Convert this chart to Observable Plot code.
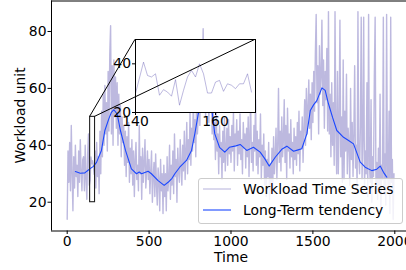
<!DOCTYPE html>
<html><head><meta charset="utf-8">
<script src="https://cdn.jsdelivr.net/npm/d3@7"></script>
<script src="https://cdn.jsdelivr.net/npm/@observablehq/plot@0.6"></script>
<style>
body{margin:0;background:#fff;}
#wrap{position:relative;width:406px;height:270px;overflow:hidden;font-family:"DejaVu Sans",sans-serif;}
#wrap > svg{position:absolute;}
</style></head><body><div id="wrap"></div>
<script>
// ---- data ----
const STEP = 5; // time spacing of the workload samples
const workloadA = [ // t = 0..495
  14,38,27,41,24,47,30,17,36,25,40,29,33,22,38,27,42,31,24,35,
  36,24,40,28,21,37,44,26,27.8,35.9,33.5,34.6,32.5,29.8,38,25,41,29,36,23,
  45,30,52,36,58,40,61,44,55,38,66,45,72,82,44,68,40,70,50,64,
  46,62,40,58,44,54,36,50,41,47,33,45,29,43,34,48,27,39,30,42,
  26,38,22,35,41,28,33,24,47,30,36,21,39,27,34,42,25,31,38,28];
const workloadB = [ // t = 500..995
  35,23,31,38,20,29,34,22,37,26,19,32,28,17,35,24,30,16,33,22,
  30,17,36,24,28,40,21,33,26,38,23,44,29,35,20,39,31,27,42,33,
  26,40,31,45,28,38,48,30,42,35,52,33,46,38,56,41,49,36,58,44,
  50,65,47,70,54,62,81,55,68,50,74,57,63,48,66,52,60,44,56,42,
  48,35,52,38,44,30,47,36,41,28,45,34,50,31,39,46,33,49,37,43];
const workloadC = [ // t = 1000..1495
  34,47,38,52,31,44,40,49,33,45,37,51,35,42,30,48,39,44,32,46,
  36,50,29,44,55,34,41,31,47,38,56,33,45,30,42,36,51,28,40,33,
  44,26,38,22,35,29,41,21,33,27,39,24,43,30,36,46,28,40,60,34,
  45,31,50,36,42,56,34,47,28,53,38,44,32,49,36,41,30,46,35,43,
  33,48,37,52,31,45,39,50,34,46,56,40,60,44,53,63,46,58,42,62];
const workloadD = [ // t = 1500..1995
  48,66,52,72,86,55,68,44,75,58,64,84,54,70,46,66,56,74,45,87,
  44,58,36,62,40,55,33,87,45,30,66,30,47,84,36,50,27,70,28,52,
  38,65,30,46,41,26,60,35,48,29,44,68,32,40,25,87,36,30,47,85,
  28,42,85,24,38,30,62,22,86,33,27,56,20,36,29,64,85,25,34,21,
  39,26,58,18,33,28,85,23,37,19,86,30,25,52,16,85,27,35,14,30];

const tendT = [50,80,108,120,138,160,179,209,230,254,270,285,305,325,356,392,423,440,454,494,514,555,592,616,640,657,687,728,759,779,800,830,855,880,901,930,962,990,1030,1056,1096,1137,1178,1205,1233,1270,1310,1341,1382,1410,1432,1463,1484,1505,1524,1555,1575,1595,1620,1646,1687,1720,1748,1789,1819,1860,1890,1911,1931,1951];
const tendV = [30.8,30.2,30.3,30.9,31.7,32.6,34,38.2,45.2,49.3,51.6,52.5,51,45.2,38.2,31.7,30,30.6,30,30.9,30,27.6,25.9,27,28.4,30,32.3,34.7,38.2,44,51,56,58,54,44,39.3,37.6,39.3,39.8,40.3,38.2,39.3,37.6,35.4,32.7,35.8,38.6,39.7,37.9,38.4,38.8,44,52.2,54.3,55.7,60.2,59.3,54.6,49.8,45.2,42.8,41.6,40.5,34.1,32.3,31.1,31.6,32.7,30.5,28.8];

const insetT = [140,142,143,144,145,146,147,148,149,150,151,152,153,154,155,156,157,158,159,160,161,162,163,164,165,166,167,168,169];
const insetV = [27.8,40.7,35.2,34.6,35.9,27.1,29.4,28.4,26.7,33.5,23.0,29.1,34.6,37.3,34.6,40.0,35.9,28.0,28.0,32.5,33.2,28.7,31.8,31.2,29.8,31.8,31.8,35.9,28.4];

const xTicks = [0,500,1000,1500,2000];
const yTicks = [20,40,60,80];
const zoomX = [140,170];
const zoomY = [20,50];
const insetXTicks = [140,160];
const insetYTicks = [20,40];
const seriesNames = ["Workload Time Series","Long-Term tendency"];
const xLabel = "Time", yLabel = "Workload unit";

// ---- styles / layout ----
const FONT = "DejaVu Sans";
const FS = "13.9px";
const WCOL = "#5a4fb0", WOP = 0.4;
const TCOL = "#1a47ff";
const W = 406, H = 270;
const insetBox = {x:135, y:39.3, w:120, h:73};

const workload = [...workloadA, ...workloadB, ...workloadC, ...workloadD].map((v,i)=>({t:i*STEP, v}));
const tendency = tendT.map((t,i)=>({t, v:tendV[i]}));
const insetData = insetT.map((t,i)=>({t, v:insetV[i]}));

const wrap = document.getElementById("wrap");
const xDom = [-95.8, 2071.4], yDom = [9.88, 90.72];

const main = Plot.plot({
  width: W, height: H,
  marginLeft: 51, marginRight: 0, marginTop: 0.5, marginBottom: 39.5,
  style: {fontFamily: FONT, fontSize: FS, color: "black", background: "transparent"},
  x: {domain: xDom, label: null},
  y: {domain: yDom, label: null},
  marks: [
    Plot.line(workload, {x:"t", y:"v", stroke: WCOL, strokeOpacity: WOP, strokeWidth: 1.4}),
    Plot.line(tendency, {x:"t", y:"v", stroke: TCOL, strokeWidth: 1.1}),
    Plot.rect([{}], {x1: zoomX[0], x2: zoomX[1], y1: zoomY[0], y2: zoomY[1], fill: "none", stroke: "#222", strokeWidth: 1.1}),
    Plot.ruleX([xDom[0]], {stroke: "black", strokeWidth: 1}),
    Plot.ruleY([yDom[0], yDom[1]], {stroke: "black", strokeWidth: 1}),
    Plot.axisX({ticks: xTicks, tickFormat: d => String(d), tickSize: 3.5, tickPadding: 1.5, label: null, fontSize: 13.9}),
    Plot.axisY({ticks: yTicks, tickSize: 3.5, tickPadding: 1.5, label: null, fontSize: 13.9}),
    Plot.text([xLabel], {frameAnchor: "bottom", lineAnchor: "bottom", dy: 30.5, dx: 2, fontSize: 13.9, fill: "black"})
  ]
});
main.style.left = "0px"; main.style.top = "0px";
d3.select(main).append("text")
  .attr("transform", "translate(25,115.5) rotate(-90)")
  .attr("text-anchor", "middle").attr("font-size", 13.9).attr("font-family", FONT).attr("fill", "black")
  .text(yLabel);
wrap.appendChild(main);

const iL = 26, iR = 1, iT = 1, iB = 22;
const inset = Plot.plot({
  width: insetBox.w + iL + iR, height: insetBox.h + iT + iB,
  marginLeft: iL, marginRight: iR, marginTop: iT, marginBottom: iB,
  style: {fontFamily: FONT, fontSize: FS, color: "black", background: "transparent", overflow: "visible"},
  x: {domain: zoomX, label: null},
  y: {domain: zoomY, label: null},
  marks: [
    Plot.frame({fill: "white", stroke: "none"}),
    Plot.line(insetData, {x:"t", y:"v", stroke: WCOL, strokeOpacity: WOP, strokeWidth: 1}),
    Plot.frame({stroke: "black", strokeWidth: 1}),
    Plot.axisX({ticks: insetXTicks, tickSize: 3, tickPadding: 1, label: null, fontSize: 13.9}),
    Plot.axisY({ticks: insetYTicks, tickSize: 3, tickPadding: 1.5, label: null, fontSize: 13.9})
  ]
});
inset.style.left = (insetBox.x - iL) + "px";
inset.style.top = (insetBox.y - iT) + "px";
wrap.appendChild(inset);

// connector lines (drawn above the inset)
const sx = main.scale("x"), sy = main.scale("y");
const ov = d3.create("svg").attr("width", W).attr("height", H).style("left","0px").style("top","0px").style("pointer-events","none");
const rTop = sy.apply(zoomY[1]);
ov.append("line").attr("x1", sx.apply(zoomX[0])).attr("y1", rTop).attr("x2", insetBox.x).attr("y2", insetBox.y).attr("stroke","black").attr("stroke-width",1);
ov.append("line").attr("x1", sx.apply(zoomX[1])).attr("y1", rTop).attr("x2", insetBox.x + insetBox.w).attr("y2", insetBox.y).attr("stroke","black").attr("stroke-width",1);
wrap.appendChild(ov.node());

// legend
const lg = document.createElement("div");
Object.assign(lg.style, {position:"absolute", left:"197.7px", top:"177.7px", width:"205.5px", height:"46px", boxSizing:"border-box",
  background:"rgba(255,255,255,0.8)", border:"1px solid #cccccc", borderRadius:"3px"});
const items = [{name: seriesNames[0], color: WCOL, op: WOP, y: 11.6}, {name: seriesNames[1], color: TCOL, op: 1, y: 32.3}];
for (const it of items) {
  const s = document.createElementNS("http://www.w3.org/2000/svg","svg");
  s.setAttribute("width","30"); s.setAttribute("height","4");
  Object.assign(s.style, {position:"absolute", left:"4.3px", top:(it.y-1-2)+"px"});
  const l = document.createElementNS("http://www.w3.org/2000/svg","line");
  l.setAttribute("x1","0"); l.setAttribute("x2","28"); l.setAttribute("y1","2"); l.setAttribute("y2","2");
  l.setAttribute("stroke", it.color); l.setAttribute("stroke-opacity", it.op); l.setAttribute("stroke-width", "1.1");
  s.appendChild(l); lg.appendChild(s);
  const t = document.createElement("div");
  t.textContent = it.name;
  Object.assign(t.style, {position:"absolute", left:"44.3px", top:(it.y-1-9)+"px", height:"18px", lineHeight:"18px",
    fontFamily: FONT, fontSize: FS, color:"black", whiteSpace:"nowrap"});
  lg.appendChild(t);
}
wrap.appendChild(lg);
</script></body></html>
